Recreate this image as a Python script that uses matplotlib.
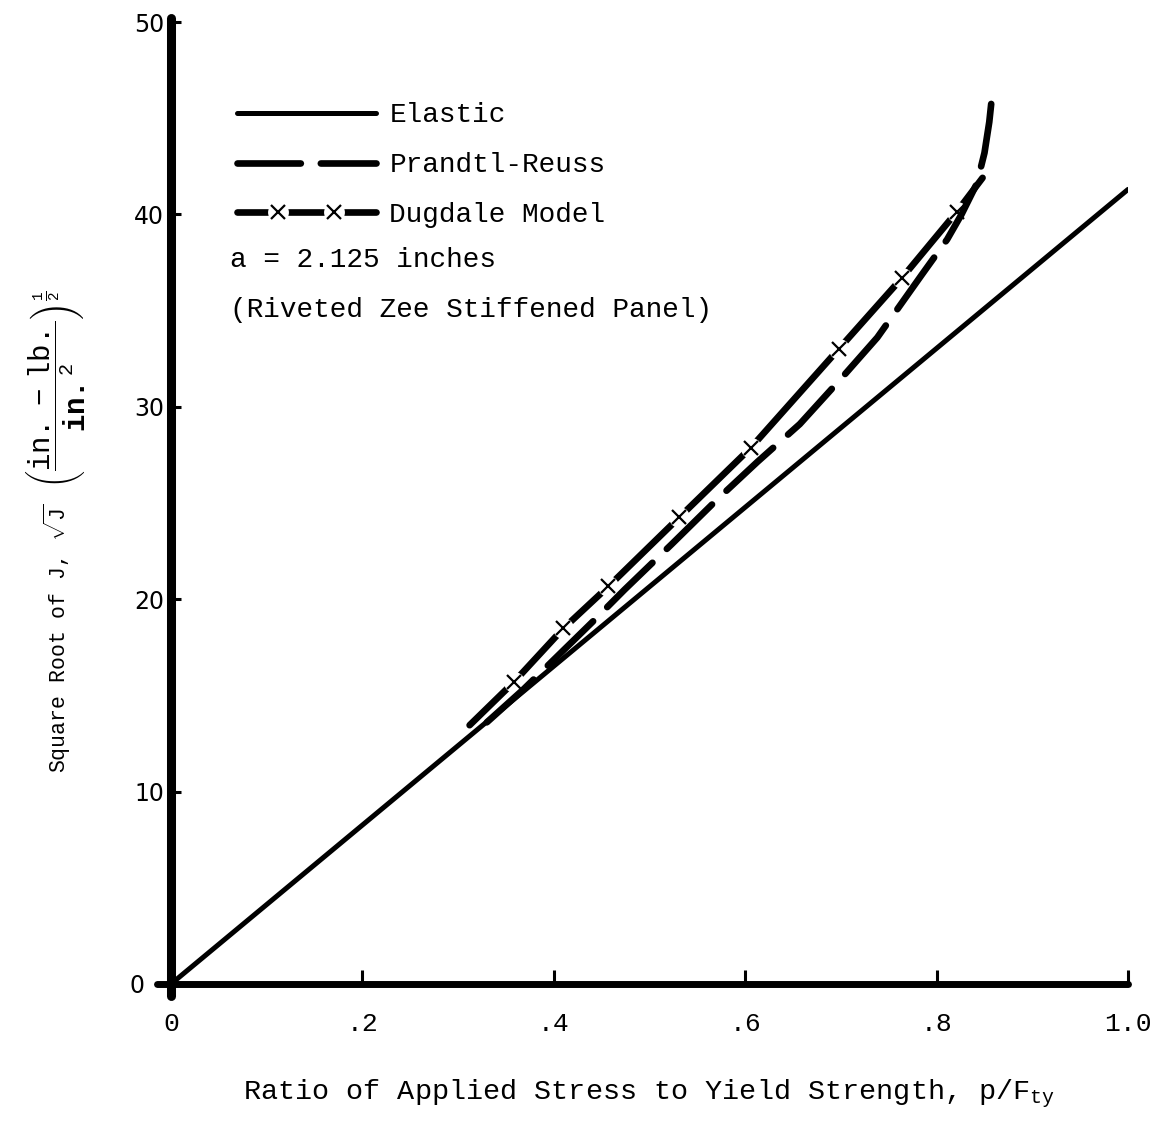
import numpy as np
import matplotlib
matplotlib.use("Agg")
import matplotlib.pyplot as plt
import matplotlib.transforms as mtransforms
from matplotlib.legend_handler import HandlerLine2D, HandlerTuple

# typewriter look for all text
plt.rcParams['font.family'] = ['Liberation Mono', 'DejaVu Sans']
plt.rcParams['mathtext.fontset'] = 'custom'
plt.rcParams['mathtext.rm'] = 'Liberation Mono'
plt.rcParams['mathtext.it'] = 'Liberation Mono:italic'
plt.rcParams['mathtext.bf'] = 'Liberation Mono:bold'

# elastic solution (straight line)
elastic_x = [0.0, 1.0]
elastic_y = [0.0, 41.3]

# Prandtl-Reuss plasticity solution
pr_x = [0.33, 0.368, 0.403, 0.440, 0.474, 0.523, 0.571, 0.613, 0.657,
        0.699, 0.738, 0.785, 0.811, 0.826, 0.842, 0.850, 0.855, 0.858]
pr_y = [13.6, 15.3, 17.0, 18.8, 20.5, 22.85, 25.2, 27.15, 29.1,
        31.4, 33.6, 36.9, 38.7, 40.0, 41.6, 43.2, 44.8, 46.2]

# Dugdale model curve and its plotted points
dug_x = [0.312, 0.358, 0.410, 0.457, 0.531, 0.606, 0.698, 0.764, 0.821, 0.848]
dug_y = [13.45, 15.68, 18.48, 20.66, 24.25, 27.88, 33.02, 36.71, 40.13, 41.9]
dug_px = [0.358, 0.410, 0.457, 0.531, 0.606, 0.698, 0.764, 0.821]
dug_py = [15.68, 18.48, 20.66, 24.25, 27.88, 33.02, 36.71, 40.13]

xticks = [0, 0.2, 0.4, 0.6, 0.8, 1.0]
xticklabels = ['0', '.2', '.4', '.6', '.8', '1.0']
yticks = [0, 10, 20, 30, 40, 50]

fig = plt.figure(figsize=(11.54, 11.23), dpi=100)
ax = fig.add_axes([0.1482, 0.1238, 0.8293, 0.8566])

el, = ax.plot(elastic_x, elastic_y, color='black', lw=3.6,
              solid_capstyle='round', zorder=4, label='Elastic')
pr, = ax.plot(pr_x, pr_y, color='black', lw=4.8, dash_capstyle='round',
              linestyle=(0, (9.5, 3.0)), zorder=4, label='Prandtl-Reuss')
dl, = ax.plot(dug_x, dug_y, color='black', lw=4.8, solid_capstyle='round',
              zorder=3)
# white discs break the Dugdale line around each plotted point
dgap, = ax.plot(dug_px, dug_py, linestyle='none', marker='o', ms=15,
                mfc='white', mec='none', zorder=3.2)
dmk, = ax.plot(dug_px, dug_py, linestyle='none', marker='x', ms=10,
               mew=1.6, color='black', zorder=5)

ax.set_xlim(0, 1.0)
ax.set_ylim(0, 50)
ax.set_xticks(xticks)
ax.set_xticklabels(xticklabels)
ax.set_yticks(yticks)

for side in ['top', 'right']:
    ax.spines[side].set_visible(False)
ax.spines['left'].set_linewidth(6.5)
ax.spines['bottom'].set_linewidth(5.0)
ax.spines['left'].set_bounds(-0.6, 50.2)
ax.spines['bottom'].set_bounds(-0.015, 1.0)
for side in ['left', 'bottom']:
    ax.spines[side].set_capstyle('round')

ax.tick_params(axis='x', direction='in', length=10, width=2.2, pad=20,
               labelsize=19)
ax.tick_params(axis='y', direction='in', length=7, width=2.2, pad=5,
               labelsize=17)
ylabs = ax.get_yticklabels()
for lab in ylabs:
    lab.set_fontfamily('DejaVu Sans')
# the zero label sits clear of the axis corner
ylabs[0].set_transform(ylabs[0].get_transform() +
                       mtransforms.ScaledTranslation(-0.2, 0, fig.dpi_scale_trans))

ax.set_xlabel(r'Ratio of Applied Stress to Yield Strength, p/F$_{\mathrm{ty}}$',
              fontsize=20.5, labelpad=30)

# y axis title in two parts: the quantity and its (larger) units
fig.text(0.0494, 0.4319, r'Square Root of J, $\sqrt{\mathrm{J}}$',
         rotation=90, rotation_mode='anchor', ha='center', va='center',
         fontsize=15.5)
fig.text(0.0477, 0.6536,
         r'$\left(\dfrac{\mathrm{in.\ -\ lb.}}{\mathbf{in.}^{2}}\right)^{\frac{1}{2}}$',
         rotation=90, rotation_mode='anchor', ha='center', va='center',
         fontsize=21)

pt_handler = HandlerLine2D(numpoints=2, marker_pad=1.5)
leg = ax.legend([el, pr, (dl, dgap, dmk)],
                ['Elastic', 'Prandtl-Reuss', 'Dugdale Model'],
                handler_map={dgap: pt_handler, dmk: pt_handler,
                             tuple: HandlerTuple(ndivide=1)},
                loc='upper left', bbox_to_anchor=(0.057, 0.928),
                frameon=False, fontsize=20, handlelength=5.0,
                handletextpad=0.5, labelspacing=0.86, borderaxespad=0)

ax.text(0.062, 0.7526, 'a = 2.125 inches', transform=ax.transAxes,
        fontsize=20, va='center', ha='left')
ax.text(0.062, 0.7006, '(Riveted Zee Stiffened Panel)', transform=ax.transAxes,
        fontsize=20, va='center', ha='left')

fig.savefig('out.png', dpi=100)
